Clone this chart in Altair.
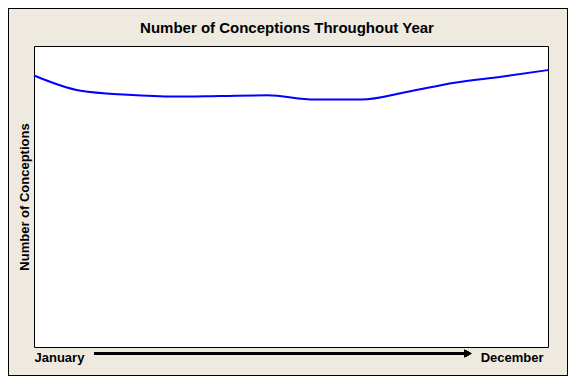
import altair as alt
import pandas as pd

months = ["January", "February", "March", "April", "May", "June",
          "July", "August", "September", "October", "November", "December"]
conceptions = [90.2, 85.1, 83.8, 83.2, 83.4, 83.6, 82.2, 82.2, 84.8, 87.8, 89.8, 92.0]
axis_labels = ["January", "December"]
chart_title = ["Number of Conceptions Throughout Year"]

df = pd.DataFrame({"month": months, "conceptions": conceptions})
df_title = pd.DataFrame({"title": chart_title})

FONT = "Liberation Sans"
W, H = 514, 301

base = alt.Chart(df)

line = base.mark_line(color="#0000FF", strokeWidth=2, interpolate="monotone").encode(
    x=alt.X("month:O", sort=months,
            scale=alt.Scale(type="point", padding=0),
            axis=alt.Axis(values=axis_labels, title=None, ticks=False, tickSize=0,
                          domain=False, grid=False, labelFlush=True,
                          labelOffset={"condition": {"test": "datum.value == 'December'",
                                                     "value": -5},
                                       "value": 0},
                          labelAngle=0, labelFont=FONT, labelFontSize=13,
                          labelFontWeight="bold", labelColor="black",
                          labelBaseline="alphabetic", labelPadding=14)),
    y=alt.Y("conceptions:Q", scale=alt.Scale(domain=[0, 100]),
            axis=alt.Axis(title="Number of Conceptions", labels=False, ticks=False,
                          tickSize=0, domain=False, grid=False,
                          titleFont=FONT, titleFontSize=13, titleFontWeight="bold",
                          titleColor="black", titleBaseline="alphabetic",
                          titlePadding=6)),
)

arrow_line = base.mark_rule(color="black", strokeWidth=1.8).encode(
    x=alt.value(60), x2=alt.value(432), y=alt.value(307.5)
)
arrow_head = base.mark_point(shape="triangle-right", filled=True, color="black",
                             size=60, opacity=1).encode(
    x=alt.value(434), y=alt.value(307.5)
)
frame = base.mark_rect(fill="transparent", stroke="black", strokeWidth=1).encode(
    x=alt.value(-25.5), x2=alt.value(533.5), y=alt.value(-37.5), y2=alt.value(329.5)
)
title_text = alt.Chart(df_title).mark_text(
    font=FONT, fontSize=15, fontWeight="bold", color="black",
    align="center", baseline="alphabetic"
).encode(text="title:N", x=alt.value(253), y=alt.value(-12.7))

chart = alt.layer(frame, line, arrow_line, arrow_head, title_text).properties(
    width=W, height=H,
    autosize=alt.AutoSizeParams(type="none"),
    padding={"left": 26, "top": 38, "right": 20, "bottom": 29},
    background="#EEEAE0",
).configure_view(stroke="black", strokeWidth=1, fill="white")

chart.save("out.html", embed_options={"renderer": "svg", "actions": False})
